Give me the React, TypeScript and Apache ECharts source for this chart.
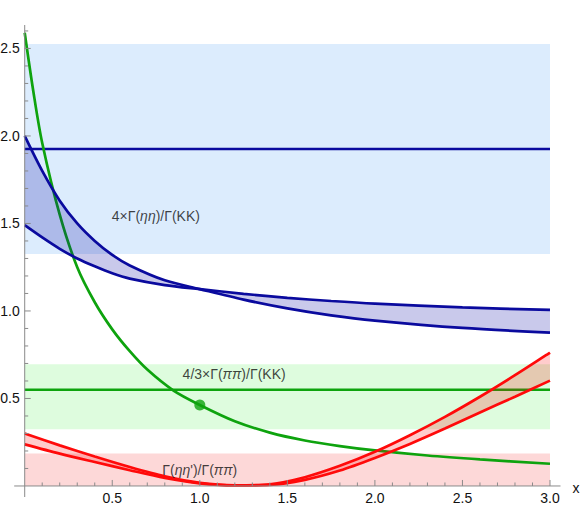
import React, { useEffect, useRef } from 'react';
import * as echarts from 'echarts';

// ---- data ----
const X_BLUE = [0, 0.1, 0.2, 0.3, 0.4, 0.5, 0.6, 0.8, 1.0, 1.25, 1.5, 1.75, 2.0, 2.5, 3.0];
const BLUE_A = [2.0, 1.8, 1.63, 1.5, 1.4, 1.32, 1.26, 1.175, 1.125, 1.065, 1.015, 0.975, 0.945, 0.903, 0.876];
const BLUE_B = [1.49, 1.42, 1.355, 1.3, 1.255, 1.215, 1.185, 1.148, 1.125, 1.098, 1.075, 1.057, 1.042, 1.02, 1.006];

const X_GREEN = [0, 0.05, 0.1, 0.2, 0.3, 0.4, 0.5, 0.6, 0.7, 0.85, 1.0, 1.2, 1.4, 1.6, 1.8, 2.0, 2.3, 2.6, 3.0];
const GREEN_CURVE = [2.59, 2.25, 1.96, 1.55, 1.25, 1.05, 0.895, 0.77, 0.665, 0.545, 0.463, 0.37, 0.305, 0.26, 0.228, 0.203, 0.174, 0.152, 0.127];

const X_RED = [0, 0.2, 0.4, 0.6, 0.8, 1.0, 1.2, 1.4, 1.6, 1.8, 2.0, 2.2, 2.4, 2.6, 2.8, 3.0];
const RED_1 = [0.3, 0.232, 0.168, 0.108, 0.055, 0.018, 0.004, 0.01, 0.05, 0.115, 0.195, 0.29, 0.395, 0.51, 0.633, 0.762];
const RED_2 = [0.238, 0.185, 0.137, 0.09, 0.046, 0.015, 0.003, 0.006, 0.035, 0.088, 0.16, 0.24, 0.328, 0.42, 0.51, 0.602];

const X_SPAN = [0, 3];
const BLUE_LEVEL = 1.926;
const BLUE_BAND = [1.326, 2.526];
const GREEN_LEVEL = 0.55;
const GREEN_BAND = [0.324, 0.695];
const RED_BAND = [0, 0.185];
const GREEN_POINT = [1.0, 0.463];

const X_MAJOR = [0.5, 1.0, 1.5, 2.0, 2.5, 3.0];
const X_MINOR = [0.1, 0.2, 0.3, 0.4, 0.6, 0.7, 0.8, 0.9, 1.1, 1.2, 1.3, 1.4, 1.6, 1.7, 1.8, 1.9, 2.1, 2.2, 2.3, 2.4, 2.6, 2.7, 2.8, 2.9];
const Y_MAJOR = [0.5, 1.0, 1.5, 2.0, 2.5];
const Y_MINOR = [0.1, 0.2, 0.3, 0.4, 0.6, 0.7, 0.8, 0.9, 1.1, 1.2, 1.3, 1.4, 1.6, 1.7, 1.8, 1.9, 2.1, 2.2, 2.3, 2.4, 2.6];
const X_TICK_LABELS = ['0.5', '1.0', '1.5', '2.0', '2.5', '3.0'];
const Y_TICK_LABELS = ['0.5', '1.0', '1.5', '2.0', '2.5'];
const X_AXIS_NAME = 'x';

const LABEL_TEXTS = [
  '{a|4×Γ(}{b|ηη}{a|)/Γ(KK)}',
  '{a|4/3×Γ(}{b|ππ}{a|)/Γ(KK)}',
  "{a|Γ(}{b|ηη}{a|')/Γ(}{b|ππ}{a|)}",
];
const LABEL_AT = [
  [0.749, 1.54],
  [1.196, 0.637],
  [1.0, 0.093],
];

const FONT = '"Liberation Sans", Arial, Helvetica, sans-serif';
const BLUE = '#0a0a9e';
const GREEN = '#0ea30e';
const RED = '#ff0a0a';
const AXIS_GRAY = '#8a8a8a';
const TEXT = '#111111';

const X_MIN = -0.06;
const X_MAX = 3.06;
const Y_MIN = -0.063;
const Y_MAX = 2.634;

function pairs(xs: number[], ys: number[]) {
  return xs.map((x, i) => [x, ys[i]]);
}

function bandSeries(lo: number, hi: number, color: string) {
  return {
    type: 'custom',
    coordinateSystem: 'cartesian2d',
    silent: true,
    z: 1,
    data: [[X_SPAN[0], lo, X_SPAN[1], hi]],
    renderItem: (_p: any, api: any) => {
      const a = api.coord([api.value(0), api.value(3)]);
      const b = api.coord([api.value(2), api.value(1)]);
      return {
        type: 'rect',
        shape: { x: a[0], y: a[1], width: b[0] - a[0], height: b[1] - a[1] },
        style: { fill: color },
      };
    },
  };
}

function fillBetween(xs: number[], lo: number[], hi: number[], color: string) {
  return {
    type: 'custom',
    coordinateSystem: 'cartesian2d',
    silent: true,
    z: 3,
    data: [[xs[0], lo[0]]],
    renderItem: (_p: any, api: any) => {
      const pts: number[][] = xs.map((x, i) => api.coord([x, lo[i]]));
      for (let i = xs.length - 1; i >= 0; i--) pts.push(api.coord([xs[i], hi[i]]));
      return { type: 'polygon', shape: { points: pts }, style: { fill: color } };
    },
  };
}

function curve(xs: number[], ys: number[], color: string, z: number) {
  return {
    type: 'line',
    data: pairs(xs, ys),
    smooth: 0.3,
    symbol: 'none',
    silent: true,
    z,
    lineStyle: { color, width: 2.7 },
  };
}

function level(y: number, color: string) {
  return {
    type: 'line',
    data: [[X_SPAN[0], y], [X_SPAN[1], y]],
    symbol: 'none',
    silent: true,
    z: 2,
    lineStyle: { color, width: 2.5 },
  };
}

// axes drawn through the cartesian scales (crossing at the origin)
function axesSeries() {
  return {
    type: 'custom',
    coordinateSystem: 'cartesian2d',
    silent: true,
    clip: false,
    z: 8,
    data: [[0, 0]],
    renderItem: (_p: any, api: any) => {
      const lineStyle = { stroke: AXIS_GRAY, lineWidth: 1 };
      const children: any[] = [];
      const xa = api.coord([X_MIN, 0]);
      const xb = api.coord([X_MAX, 0]);
      const ya = api.coord([0, Y_MIN]);
      const yb = api.coord([0, Y_MAX]);
      children.push({ type: 'line', shape: { x1: xa[0], y1: xa[1], x2: xb[0], y2: xb[1] }, style: lineStyle });
      children.push({ type: 'line', shape: { x1: ya[0], y1: ya[1], x2: yb[0], y2: yb[1] }, style: lineStyle });
      const xTick = (v: number, len: number) => {
        const p = api.coord([v, 0]);
        children.push({ type: 'line', shape: { x1: p[0], y1: p[1], x2: p[0], y2: p[1] - len }, style: lineStyle });
        return p;
      };
      const yTick = (v: number, len: number) => {
        const p = api.coord([0, v]);
        children.push({ type: 'line', shape: { x1: p[0], y1: p[1], x2: p[0] + len, y2: p[1] }, style: lineStyle });
        return p;
      };
      X_MINOR.forEach((v) => xTick(v, 3.5));
      Y_MINOR.forEach((v) => yTick(v, 3.5));
      X_MAJOR.forEach((v, i) => {
        const p = xTick(v, 6);
        children.push({
          type: 'text',
          style: {
            text: X_TICK_LABELS[i], x: p[0], y: p[1] + 5, align: 'center', verticalAlign: 'top',
            fontFamily: FONT, fontSize: 14, lineHeight: 14, fill: TEXT,
          },
        });
      });
      Y_MAJOR.forEach((v, i) => {
        const p = yTick(v, 6);
        children.push({
          type: 'text',
          style: {
            text: Y_TICK_LABELS[i], x: p[0] - 5, y: p[1], align: 'right', verticalAlign: 'middle',
            fontFamily: FONT, fontSize: 14, fill: TEXT,
          },
        });
      });
      children.push({
        type: 'text',
        style: {
          text: X_AXIS_NAME, x: xb[0] + 12, y: xb[1] + 2, align: 'left', verticalAlign: 'middle',
          fontFamily: FONT, fontSize: 14, fill: TEXT,
        },
      });
      return { type: 'group', children };
    },
  };
}

export default function App() {
  const ref = useRef<HTMLDivElement>(null);
  useEffect(() => {
    if (!ref.current) return;
    const chart = echarts.init(ref.current, undefined, { renderer: 'svg' });
    const rich = {
      a: { fontFamily: FONT, fontSize: 14, color: TEXT },
      b: { fontFamily: FONT, fontSize: 14, color: TEXT, fontStyle: 'italic' },
    };
    chart.setOption({
      animation: false,
      backgroundColor: '#ffffff',
      grid: { left: 14.2, right: 20.5, top: 25, bottom: 9, containLabel: false, outerBoundsMode: 'none' },
      xAxis: {
        type: 'value',
        min: X_MIN,
        max: X_MAX,
        show: false,
        splitLine: { show: false },
      },
      yAxis: {
        type: 'value',
        min: Y_MIN,
        max: Y_MAX,
        show: false,
        splitLine: { show: false },
      },
      series: [
        bandSeries(BLUE_BAND[0], BLUE_BAND[1], 'rgb(220,236,253)'),
        bandSeries(GREEN_BAND[0], GREEN_BAND[1], 'rgb(222,252,222)'),
        bandSeries(RED_BAND[0], RED_BAND[1], 'rgb(253,216,216)'),
        level(BLUE_LEVEL, BLUE),
        level(GREEN_LEVEL, GREEN),
        curve(X_GREEN, GREEN_CURVE, GREEN, 2),
        fillBetween(X_BLUE, BLUE_A, BLUE_B, 'rgba(0,0,160,0.21)'),
        fillBetween(X_RED, RED_2, RED_1, 'rgba(255,0,0,0.2)'),
        curve(X_BLUE, BLUE_A, BLUE, 4),
        curve(X_BLUE, BLUE_B, BLUE, 4),
        curve(X_RED, RED_1, RED, 4),
        curve(X_RED, RED_2, RED, 4),
        {
          type: 'scatter',
          data: [GREEN_POINT],
          symbol: 'circle',
          symbolSize: 11,
          silent: true,
          z: 5,
          itemStyle: { color: GREEN },
        },
        {
          type: 'scatter',
          data: LABEL_AT,
          symbolSize: 1,
          silent: true,
          z: 6,
          itemStyle: { color: 'rgba(0,0,0,0)' },
          label: {
            show: true,
            position: 'inside',
            formatter: (p: any) => LABEL_TEXTS[p.dataIndex],
            rich,
          },
        },
        axesSeries(),
      ],
    });
    return () => chart.dispose();
  }, []);
  return <div ref={ref} style={{ position: 'absolute', left: 0, top: 0, width: 581, height: 506 }} />;
}
